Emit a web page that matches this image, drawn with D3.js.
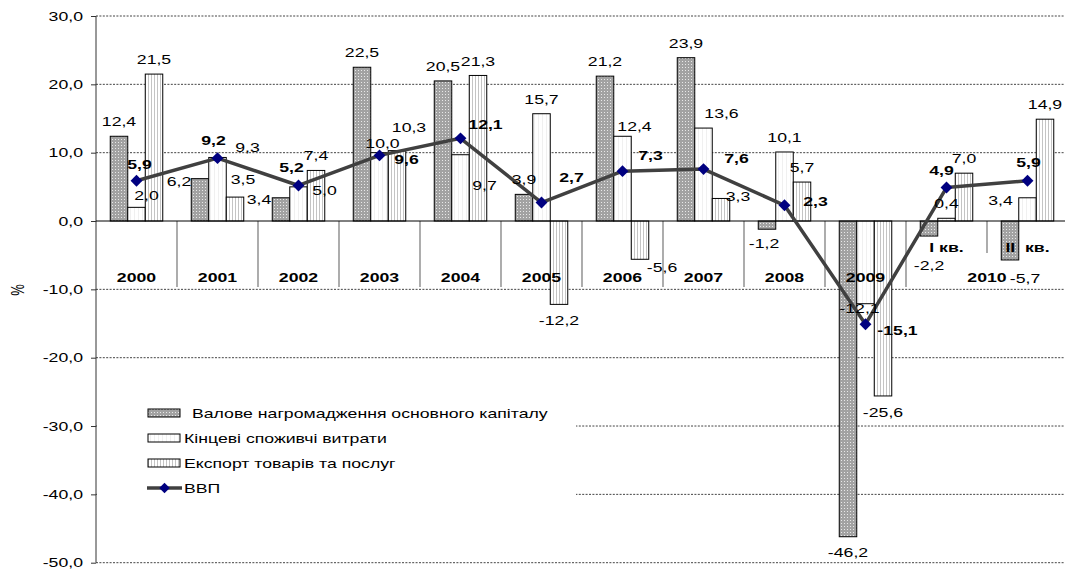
<!DOCTYPE html>
<html>
<head>
<meta charset="utf-8">
<script src="https://cdn.jsdelivr.net/npm/d3@7"></script>
<style>
    body { margin: 0; background: #fff; }
    svg text { font-family: "Liberation Sans", Arial, sans-serif; font-size: 13px; fill: #000; white-space: pre; }
</style>
</head>
<body>
<div id="chart"></div>
<script>
// data
const categories = ["2000", "2001", "2002", "2003", "2004", "2005", "2006", "2007", "2008", "2009", "I кв.", "II  кв."];
const grossCapital = [12.4, 6.2, 3.4, 22.5, 20.5, 3.9, 21.2, 23.9, -1.2, -46.2, -2.2, -5.7];
const consumption = [2.0, 9.3, 5.0, 10.0, 9.7, 15.7, 12.4, 13.6, 10.1, -12.1, 0.4, 3.4];
const exportsGS = [21.5, 3.5, 7.4, 10.3, 21.3, -12.2, -5.6, 3.3, 5.7, -25.6, 7.0, 14.9];
const gdp = [5.9, 9.2, 5.2, 9.6, 12.1, 2.7, 7.3, 7.6, 2.3, -15.1, 4.9, 5.9];
const yTicks = [30, 20, 10, 0, -10, -20, -30, -40, -50];
const seriesNames = ["Валове нагромадження основного капіталу", "Кінцеві споживчі витрати", "Експорт товарів та послуг", "ВВП"];
const yearLabel2010 = "2010";

// label nudges [dx, dy] — labels were dragged by hand in the original
const nudgeGross = [[0,0],[-21,17],[-22,16],[0,0],[0,0],[0,0],[0,0],[0,0],[-3,-2],[0,0],[0,13],[15,2]];
const nudgeCons = [[10,3],[30,4],[26,18],[3,5],[24,45],[0,0],[12,5],[18,0],[0,0],[-6,-11],[0,0],[-27,17]];
const nudgeExp = [[0,0],[8,-3],[0,0],[12,-9],[0,0],[0,0],[22,-8],[17,12],[0,0],[0,0],[0,0],[0,0]];
const nudgeGdp = [[3,-16],[-4,-18],[-7,-18],[27,4],[25,-14],[30,-25],[28,-16],[33,-11],[31,-4],[32,6],[-5,-17],[1,-18]];

const W = 1065, H = 570;
const SX = 1.36; // the picture is stretched sideways
const x0 = 96, catW = 81;
const barW = 17.5;

const fmt = d3.formatLocale({decimal: ",", thousands: " ", grouping: [3], currency: ["", ""], minus: "-"}).format(".1f");

const x = d3.scaleBand().domain(categories).range([x0, x0 + catW * categories.length]);
const y = d3.scaleLinear().domain([-50, 30]).range([562.7, 16]);

const svg = d3.select("#chart").append("svg")
    .attr("width", W)
    .attr("height", H);

function putText(g, px, py, str, bold, anchor) {
    return g.append("text")
        .attr("transform", `translate(${px},${py}) scale(${SX},1)`)
        .attr("text-anchor", anchor || "middle")
        .attr("dy", "0.35em")
        .style("font-weight", bold ? "bold" : null)
        .text(str);
}

function buildPatterns() {
    const defs = svg.append("defs");
    // gray with white dots
    let p = defs.append("pattern").attr("id", "pGross")
        .attr("patternUnits", "userSpaceOnUse").attr("width", 3).attr("height", 3);
    p.append("rect").attr("width", 3).attr("height", 3).attr("fill", "#a2a2a2");
    p.append("rect").attr("x", 1).attr("y", 1).attr("width", 1).attr("height", 1).attr("fill", "#e8e8e8");
    // almost white, faint stripes
    p = defs.append("pattern").attr("id", "pCons")
        .attr("patternUnits", "userSpaceOnUse").attr("width", 4).attr("height", 4);
    p.append("rect").attr("width", 4).attr("height", 4).attr("fill", "#ffffff");
    p.append("rect").attr("x", 2).attr("width", 1).attr("height", 4).attr("fill", "#f0f0f0");
    // white / light gray stripes
    p = defs.append("pattern").attr("id", "pExp")
        .attr("patternUnits", "userSpaceOnUse").attr("width", 3).attr("height", 4);
    p.append("rect").attr("width", 3).attr("height", 4).attr("fill", "#ffffff");
    p.append("rect").attr("x", 1).attr("width", 1).attr("height", 4).attr("fill", "#c4c4c4");
}

function buildGrid() {
    const g = svg.append("g").attr("id", "grid");
    g.selectAll("line")
        .data(yTicks.filter(d => d !== 0))
        .join("line")
        .attr("x1", x0).attr("x2", W)
        .attr("y1", d => y(d)).attr("y2", d => y(d))
        .attr("stroke", "#444")
        .attr("stroke-dasharray", "2,1.4");
    // y axis
    const ax = d3.axisLeft(y).tickValues(yTicks).tickFormat(fmt).tickSize(5).tickPadding(5);
    const axG = svg.append("g").attr("transform", `translate(${x0},0)`).call(ax);
    axG.select(".domain").attr("stroke", "#333").attr("d", `M0,${y(30)}V${y(-50)}`);
    axG.selectAll(".tick line").attr("stroke", "#333");
    axG.selectAll(".tick text")
        .attr("x", null)
        .attr("transform", `translate(-13,0) scale(${SX},1)`)
        .style("font-size", "13px")
        .style("font-family", "'Liberation Sans', Arial, sans-serif");
    // % title
    svg.append("text")
        .attr("transform", `translate(18,290) rotate(-90) scale(1,${SX})`)
        .attr("text-anchor", "middle")
        .attr("dy", "0.35em")
        .text("%");
}

function buildBars() {
    const series = [
        {vals: grossCapital, fill: "url(#pGross)", off: -barW},
        {vals: consumption, fill: "url(#pCons)", off: 0},
        {vals: exportsGS, fill: "url(#pExp)", off: barW}
    ];
    const g = svg.append("g").attr("id", "bars");
    series.forEach(s => {
        g.append("g").selectAll("rect")
            .data(s.vals)
            .join("rect")
            .attr("x", (d, i) => x(categories[i]) + catW / 2 + s.off - barW / 2)
            .attr("width", barW)
            .attr("y", d => y(Math.max(0, d)))
            .attr("height", d => Math.abs(y(d) - y(0)))
            .attr("fill", s.fill)
            .attr("stroke", "#000")
            .attr("stroke-width", 1);
    });
}

function buildCategoryAxis() {
    const g = svg.append("g").attr("id", "cataxis");
    // dividers
    const divs = d3.range(1, categories.length);
    g.selectAll("line.div")
        .data(divs)
        .join("line")
        .attr("class", "div")
        .attr("x1", i => x0 + i * catW).attr("x2", i => x0 + i * catW)
        .attr("y1", y(0)).attr("y2", i => i === 11 ? y(0) + 32 : y(0) + 66)
        .attr("stroke", "#808080")
        .attr("stroke-width", 1.3);
    g.append("line")
        .attr("x1", x0).attr("x2", W)
        .attr("y1", y(0)).attr("y2", y(0))
        .attr("stroke", "#000");
    categories.forEach((c, i) => {
        const cx = x(c) + catW / 2;
        if (i < 10) putText(g, cx, y(0) + 56, c, true);
        else putText(g, cx, y(0) + 26, c, true);
    });
    putText(g, x0 + 11 * catW, y(0) + 56, yearLabel2010, true);
}

function buildLegend() {
    const g = svg.append("g").attr("id", "legend");
    g.append("rect")
        .attr("x", 97).attr("y", 366)
        .attr("width", 479).attr("height", 145)
        .attr("fill", "#fff");
    const fills = ["url(#pGross)", "url(#pCons)", "url(#pExp)"];
    const rowY = d3.range(4).map(i => 413 + i * 25);
    fills.forEach((f, i) => {
        g.append("rect")
            .attr("x", 148).attr("y", rowY[i] - 4)
            .attr("width", 32).attr("height", 8)
            .attr("fill", f)
            .attr("stroke", "#000");
    });
    g.append("line")
        .attr("x1", 147).attr("x2", 182)
        .attr("y1", rowY[3]).attr("y2", rowY[3])
        .attr("stroke", "#404040").attr("stroke-width", 3.5);
    g.append("path")
        .attr("d", d3.symbol(d3.symbolDiamond2, 70)())
        .attr("transform", `translate(164.5,${rowY[3]})`)
        .attr("fill", "#000080");
    seriesNames.forEach((n, i) => {
        putText(g, i === 0 ? 192 : 184, rowY[i], n, false, "start");
    });
}

function buildLine() {
    const g = svg.append("g").attr("id", "gdp");
    const line = d3.line()
        .x((d, i) => x(categories[i]) + catW / 2)
        .y(d => y(d));
    g.append("path")
        .attr("d", line(gdp))
        .attr("fill", "none")
        .attr("stroke", "#404040")
        .attr("stroke-width", 3.5)
        .attr("stroke-linejoin", "round");
    g.selectAll("path.mk")
        .data(gdp)
        .join("path")
        .attr("class", "mk")
        .attr("d", d3.symbol(d3.symbolDiamond2, 90)())
        .attr("transform", (d, i) => `translate(${x(categories[i]) + catW / 2},${y(d)})`)
        .attr("fill", "#000080");
}

function buildLabels() {
    const g = svg.append("g").attr("id", "labels");
    const series = [
        {vals: grossCapital, off: -barW, nudge: nudgeGross},
        {vals: consumption, off: 0, nudge: nudgeCons},
        {vals: exportsGS, off: barW, nudge: nudgeExp}
    ];
    series.forEach(s => {
        s.vals.forEach((v, i) => {
            const lx = x(categories[i]) + catW / 2 + s.off + s.nudge[i][0];
            const ly = y(v) + (v >= 0 ? -14.5 : 16) + s.nudge[i][1];
            putText(g, lx, ly, fmt(v), false);
        });
    });
    gdp.forEach((v, i) => {
        const lx = x(categories[i]) + catW / 2 + nudgeGdp[i][0];
        const ly = y(v) + nudgeGdp[i][1];
        putText(g, lx, ly, fmt(v), true);
    });
}

buildPatterns();
buildGrid();
buildBars();
buildCategoryAxis();
buildLegend();
buildLine();
buildLabels();
</script>
</body>
</html>
